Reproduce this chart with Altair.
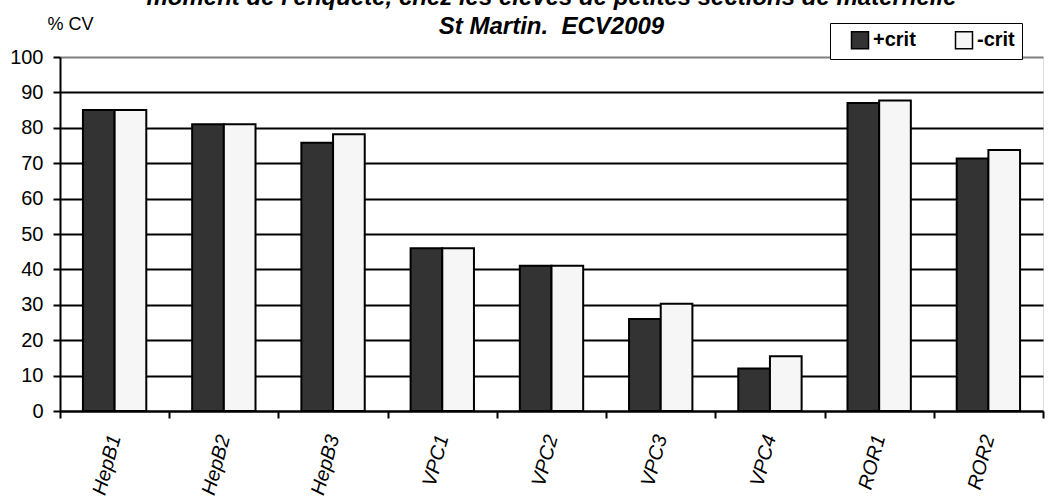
import altair as alt
import pandas as pd

categories = ["HepB1", "HepB2", "HepB3", "VPC1", "VPC2", "VPC3", "VPC4", "ROR1", "ROR2"]
plus_crit = [85.0, 81.0, 75.8, 46.0, 41.0, 26.0, 12.0, 87.0, 71.3]
minus_crit = [85.0, 81.0, 78.2, 46.0, 41.0, 30.3, 15.5, 87.7, 73.7]
series = ["+crit", "-crit"]
title_lines = [
    "moment de l'enquête, chez les élèves de petites sections de maternelle",
    "St Martin.\u00a0 ECV2009",
]
y_ticks = list(range(0, 101, 10))

rows = []
for c, p, m in zip(categories, plus_crit, minus_crit):
    rows.append({"cat": c, "serie": series[0], "val": p})
    rows.append({"cat": c, "serie": series[1], "val": m})
df = pd.DataFrame(rows)

FONT = "Liberation Sans"

chart = (
    alt.Chart(df)
    .mark_bar(stroke="black", strokeWidth=2)
    .encode(
        x=alt.X(
            "cat:N",
            sort=categories,
            scale=alt.Scale(paddingInner=0, paddingOuter=0),
            axis=alt.Axis(
                title=None,
                labelAngle=285,
                labelFont=FONT,
                labelFontSize=20,
                labelFontStyle="italic",
                labelColor="black",
                labelPadding=17,
                tickBand="extent",
                tickColor="black",
                tickWidth=2,
                tickSize=7,
                domainColor="black",
                domainWidth=2,
                grid=False,
            ),
        ),
        xOffset=alt.XOffset(
            "serie:N",
            sort=series,
            scale=alt.Scale(paddingInner=0, paddingOuter=0.724),
        ),
        y=alt.Y(
            "val:Q",
            scale=alt.Scale(domain=[0, 100], nice=False),
            axis=alt.Axis(
                title="% CV",
                titleAngle=0,
                titleX=10,
                titleY=-28,
                titleAlign="center",
                titleBaseline="alphabetic",
                titleFont=FONT,
                titleFontSize=18,
                titleFontWeight="normal",
                titleColor="black",
                values=y_ticks,
                labelFont=FONT,
                labelFontSize=20,
                labelColor="black",
                labelPadding=10,
                tickColor="black",
                tickWidth=2,
                tickSize=7,
                domainColor="black",
                domainWidth=2,
                grid=True,
                gridColor={"condition": {"test": "datum.value == 100", "value": "#808080"}, "value": "black"},
                gridWidth=2,
            ),
        ),
        fill=alt.Fill(
            "serie:N",
            sort=series,
            scale=alt.Scale(domain=series, range=["#333333", "#f6f6f6"]),
            legend=alt.Legend(
                title=None,
                orient="none",
                legendX=770,
                legendY=-34,
                direction="horizontal",
                columns=2,
                strokeColor="black",
                fillColor="white",
                padding=7,
                symbolType="square",
                symbolSize=289,
                symbolStrokeColor="black",
                symbolStrokeWidth=1.5,
                symbolOffset=13,
                columnPadding=25,
                labelOffset=3,
                labelFont=FONT,
                labelFontSize=20,
                labelFontWeight="bold",
                labelColor="black",
            ),
        ),
    )
    .properties(
        width=983,
        height=354,
        autosize=alt.AutoSizeParams(type="none"),
        padding={"left": 60, "top": 57, "right": 10, "bottom": 85},
        title=alt.TitleParams(
            text=title_lines,
            font=FONT,
            fontSize=24,
            fontWeight="bold",
            fontStyle="italic",
            color="black",
            anchor="middle",
            lineHeight=29,
            offset=20,
            dy=44,
        ),
    )
    .configure_view(fill="#c0c0c0", stroke="#808080", strokeWidth=1.5)
    .configure(background="white")
)

chart.save("out.html", embed_options={"renderer": "svg", "actions": False})
